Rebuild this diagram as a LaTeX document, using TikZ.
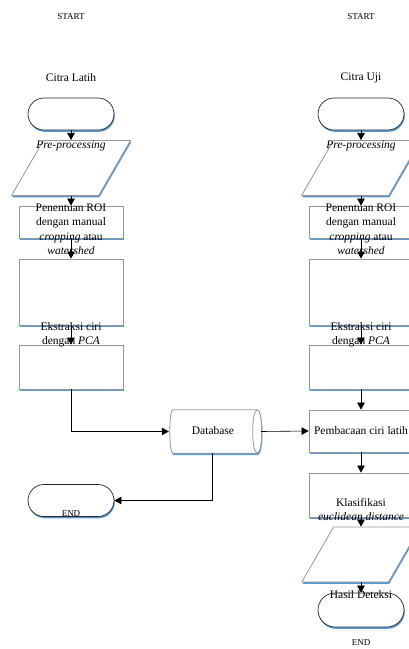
\documentclass[tikz,border=0pt]{standalone}
\usepackage{fontspec}
\setmainfont{Liberation Serif}
\usetikzlibrary{shapes.geometric,shapes.misc,shadows,arrows.meta}
\definecolor{shblue}{RGB}{91,155,213}
\definecolor{edgegray}{RGB}{150,150,150}
\begin{document}
\begin{tikzpicture}[x=1pt,y=-1pt,
	every node/.style={inner sep=0,font=\fontsize{11.5}{14.5}\selectfont},
	bshadow/.style={drop shadow={shadow xshift=0.8pt,shadow yshift=-1.8pt,fill=shblue,opacity=1}},
	term/.style={rounded rectangle,draw=black!85,line width=0.7pt,fill=white,bshadow,
		minimum width=86pt,minimum height=32pt},
	box/.style={rectangle,draw=edgegray,line width=0.8pt,fill=white,bshadow,minimum width=104pt},
	io/.style={trapezium,trapezium left angle=60,trapezium right angle=120,inner sep=2pt,
		draw=edgegray,line width=0.8pt,fill=white,bshadow,minimum width=119pt,minimum height=32pt},
	small/.style={font=\fontsize{9}{10}\selectfont},
	arr/.style={-{Triangle[length=7pt,width=7.5pt]},line width=0.6pt}]
\useasboundingbox (0,0) rectangle (408,649);

% left column: training images
\node[term] (termL) at (71,114) {};
\node[io] (ioL) at (71,168) {};
\node[box,minimum height=32pt] (roiL) at (71,222) {};
\node[box,minimum height=66pt] (pcaL) at (71,292) {};
\node[box,minimum height=44pt] (featL) at (71,367) {};
\node[term] (endL) at (71,500.5) {};

% database (horizontal cylinder)
\node[minimum width=91pt,minimum height=43pt] (db) at (215.5,431.5) {};
\draw[edgegray,line width=0.8pt,fill=white,bshadow]
	([xshift=3pt]db.north west) -- ([xshift=-4pt]db.north east)
	.. controls ([xshift=2pt]db.north east) and ([xshift=2pt]db.south east) .. ([xshift=-4pt]db.south east)
	-- ([xshift=3pt]db.south west)
	.. controls ([xshift=-1pt]db.south west) and ([xshift=-1pt]db.north west) .. cycle;
\draw[edgegray,line width=0.8pt]
	([xshift=-4pt]db.north east) .. controls ([xshift=-10pt]db.north east) and ([xshift=-10pt]db.south east) .. ([xshift=-4pt]db.south east);

% right column: test images
\node[term] (termR) at (361,114) {};
\node[io] (ioR) at (361,168) {};
\node[box,minimum height=32pt] (roiR) at (361,222) {};
\node[box,minimum height=66pt] (pcaR) at (361,292) {};
\node[box,minimum height=44pt] (featR) at (361,367) {};
\node[box,minimum height=42pt] (readR) at (361,431) {};
\node[box,minimum height=44pt] (klasR) at (361,495) {};
\node[io,minimum height=33pt] (outR) at (361,554.5) {};
\node[term,minimum height=34pt] (hasilR) at (361,610) {};

% labels
\node[small] (startL) at (71,17) {START};
\node (citraL) at (71,78) {Citra Latih};
\node (preL) at (71,146) {\textit{Pre-processing}};
\node[align=center] (roiLtxt) at (71,229) {Penentuan ROI\\dengan manual\\\textit{cropping} atau\\\textit{watershed}};
\node[align=center] (pcaLtxt) at (71,334.5) {Ekstraksi ciri\\dengan \textit{PCA}};
\node[small] (endLtxt) at (71,514) {END};
\node (dbtxt) at (213,431) {Database};
\node[small] (startR) at (361,17) {START};
\node (citraR) at (361,78) {Citra Uji};
\node (preR) at (361,146) {\textit{Pre-processing}};
\node[align=center] (roiRtxt) at (361,229) {Penentuan ROI\\dengan manual\\\textit{cropping} atau\\\textit{watershed}};
\node[align=center] (pcaRtxt) at (361,334.5) {Ekstraksi ciri\\dengan \textit{PCA}};
\node (readRtxt) at (361,431) {Pembacaan ciri latih};
\node[align=center] (klasRtxt) at (361,509.5) {Klasifikasi\\\textit{euclidean distance}};
\node (hasilRtxt) at (361,595) {Hasil Deteksi};
\node[small] (endR) at (361,643) {END};

% connectors
\draw[arr] (termL.south) -- (ioL.north);
\draw[arr] (ioL.south) -- (roiL.north);
\draw[arr] (roiL.south) -- (pcaL.north);
\draw[arr] (pcaL.south) -- (featL.north);
\draw[arr] (featL.south) |- ([xshift=-1pt]db.west);
\draw[arr] (db.east) -- (readR.west);
\draw[arr] ([xshift=-3pt]db.south) |- (endL.east);
\draw[arr] (termR.south) -- (ioR.north);
\draw[arr] (ioR.south) -- (roiR.north);
\draw[arr] (roiR.south) -- (pcaR.north);
\draw[arr] (pcaR.south) -- (featR.north);
\draw[arr] (featR.south) -- (readR.north);
\draw[arr] (readR.south) -- (klasR.north);
\draw[arr] (klasR.south) -- (outR.north);
\draw[arr] (outR.south) -- (hasilR.north);
\end{tikzpicture}
\end{document}
